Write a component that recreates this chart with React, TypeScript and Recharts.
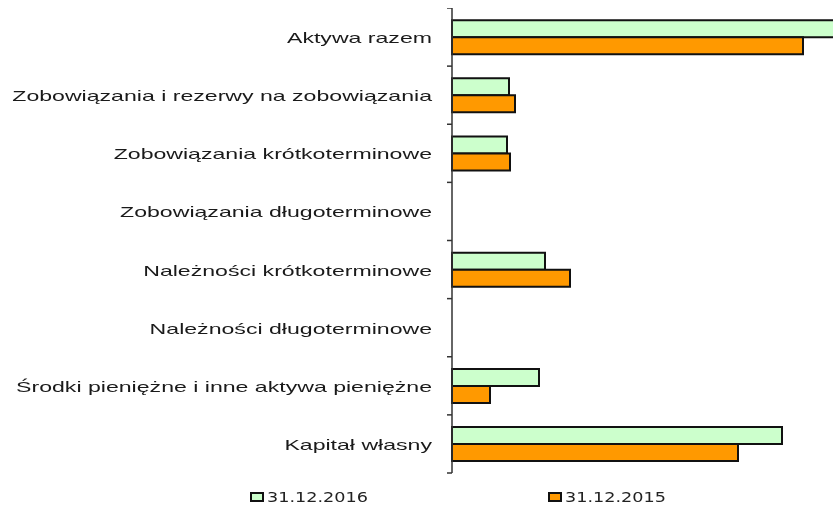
import { Bar, BarChart, Legend, XAxis, YAxis } from "recharts";

const categories = [
  "Aktywa razem",
  "Zobowiązania i rezerwy na zobowiązania",
  "Zobowiązania krótkoterminowe",
  "Zobowiązania długoterminowe",
  "Należności krótkoterminowe",
  "Należności długoterminowe",
  "Środki pieniężne i inne aktywa pieniężne",
  "Kapitał własny",
];

const values2016 = [400, 57, 55, 0, 93, 0, 87, 330];
const values2015 = [351, 63, 58, 0, 118, 0, 38, 286];

const seriesNames = ["31.12.2016", "31.12.2015"];
const seriesColors = ["#CCFFCC", "#FF9900"];

const data = categories.map((name, i) => ({
  name,
  v2016: values2016[i],
  v2015: values2015[i],
}));

// chart is wider than the visible frame; the frame crops the longest bar
const VIEW_W = 825;
const CHART_W = 870;
const CHART_H = 501;
const AXIS_W = 444;
const MARGIN_BOTTOM = 36;
const PLOT_H = CHART_H - MARGIN_BOTTOM;
const BAND = PLOT_H / categories.length;

type TickProps = { x: number; y: number; index: number; payload: { value: string } };

function CategoryTick({ x, y, index, payload }: TickProps) {
  const axisX = x + 20;
  return (
    <g>
      <line x1={axisX - 5} x2={axisX} y1={y - BAND / 2} y2={y - BAND / 2} stroke="#333" strokeWidth={1.5} />
      {index === categories.length - 1 && (
        <line x1={axisX - 5} x2={axisX} y1={y + BAND / 2} y2={y + BAND / 2} stroke="#333" strokeWidth={1.5} />
      )}
      <text
        transform={`translate(${x},${y}) scale(1.54,1)`}
        textAnchor="end"
        dy="0.4em"
        fontFamily="'Liberation Sans', Arial, sans-serif"
        fontSize={15}
        fill="#1a1a1a"
      >
        {payload.value}
      </text>
    </g>
  );
}

function LegendBox() {
  const lefts = [242, 540];
  return (
    <div style={{ position: "relative", width: VIEW_W, height: 14 }}>
      {seriesNames.map((n, i) => (
        <div
          key={n}
          style={{ position: "absolute", left: lefts[i], top: 0, height: 14, display: "flex", alignItems: "center" }}
        >
          <div
            style={{
              width: 10,
              height: 6,
              border: "2px solid #111",
              background: seriesColors[i],
            }}
          />
          <span
            style={{
              display: "inline-block",
              marginLeft: 3,
              fontFamily: "'DejaVu Sans', Verdana, sans-serif",
              fontSize: 14,
              lineHeight: "14px",
              color: "#222",
              transform: "scaleX(1.26)",
              transformOrigin: "left center",
              whiteSpace: "nowrap",
            }}
          >
            {n}
          </span>
        </div>
      ))}
    </div>
  );
}

export default function App() {
  return (
    <div style={{ position: "fixed", left: 8, top: 8, width: VIEW_W, height: CHART_H, overflow: "hidden" }}>
      <BarChart
        width={CHART_W}
        height={CHART_H}
        data={data}
        layout="vertical"
        margin={{ top: 0, right: 0, bottom: MARGIN_BOTTOM, left: 0 }}
        barCategoryGap="21%"
        barGap={0}
      >
        <XAxis type="number" hide domain={[0, CHART_W - AXIS_W]} />
        <YAxis
          type="category"
          dataKey="name"
          width={AXIS_W}
          tickLine={false}
          tickSize={5}
          tickMargin={15}
          axisLine={{ stroke: "#333", strokeWidth: 1.5 }}
          tick={CategoryTick as any}
          interval={0}
        />
        <Legend
          verticalAlign="middle"
          align="center"
          layout="horizontal"
          wrapperStyle={{ top: 482, left: 0, width: VIEW_W }}
          content={() => <LegendBox />}
        />
        <Bar dataKey="v2016" name={seriesNames[0]} fill={seriesColors[0]} stroke="#111" strokeWidth={2} isAnimationActive={false} />
        <Bar dataKey="v2015" name={seriesNames[1]} fill={seriesColors[1]} stroke="#111" strokeWidth={2} isAnimationActive={false} />
      </BarChart>
    </div>
  );
}
